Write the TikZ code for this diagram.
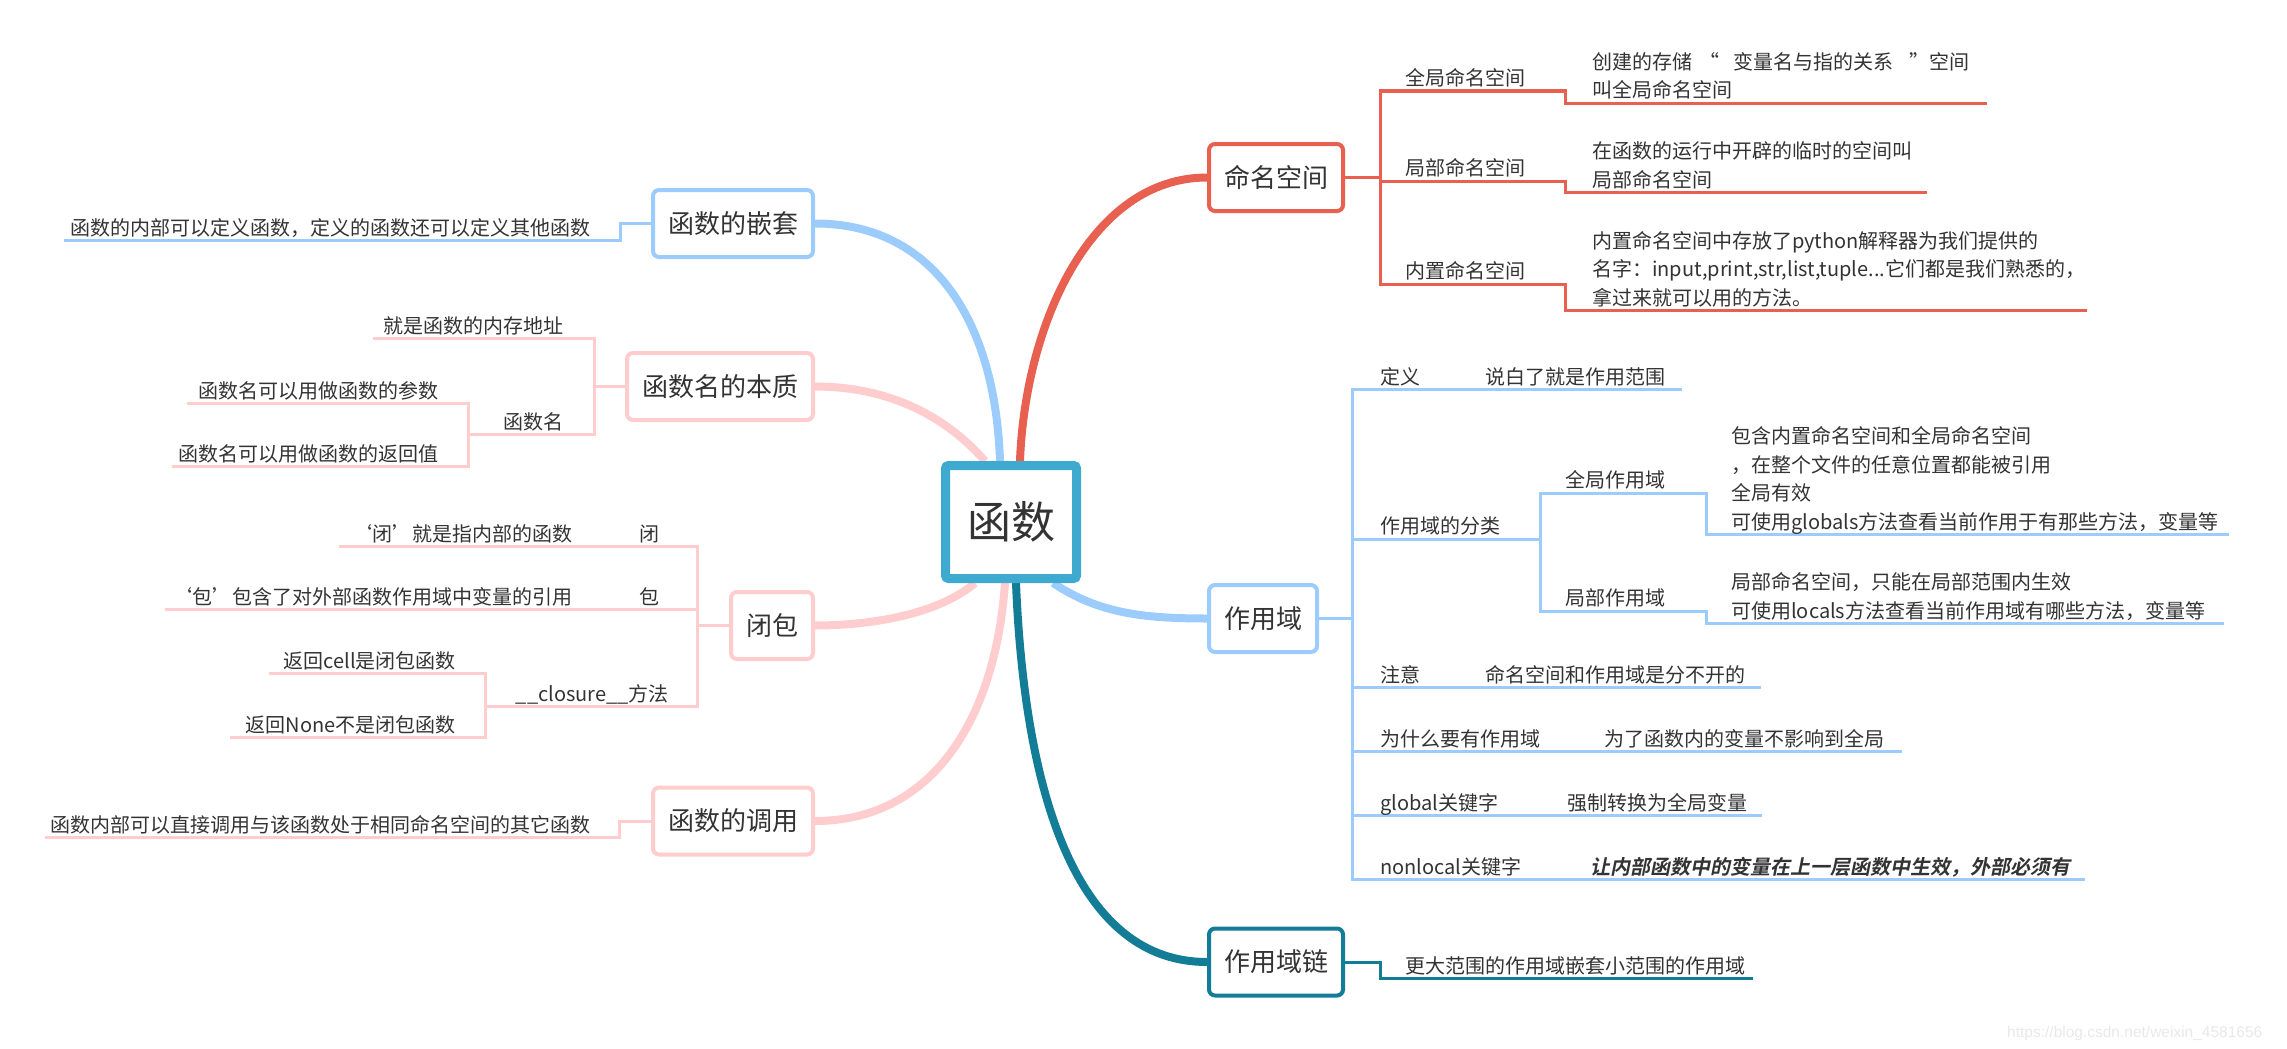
\documentclass[tikz,border=0pt]{standalone}
\usepackage{fontspec}
\setmainfont{Noto Sans CJK SC}
\newfontfamily\emfont{Noto Sans CJK SC Bold}[FakeSlant=0.2]
\newfontfamily\wmfont{Liberation Sans}
\usetikzlibrary{positioning,backgrounds}

\definecolor{nsred}{HTML}{E8604F}
\definecolor{scblue}{HTML}{9CCCFB}
\definecolor{fnpink}{HTML}{FFCDCD}
\definecolor{chainteal}{HTML}{137C96}
\definecolor{rootcyan}{HTML}{3EAAD0}
\definecolor{txtgray}{HTML}{333333}
\definecolor{wmgray}{HTML}{E8E8E8}

\newcommand\leaffont{\fontsize{20}{28.5}\selectfont}
\newcommand\topicfont{\fontsize{26}{30}\selectfont}
\newcommand\rootfont{\fontsize{44}{50}\selectfont}

\tikzset{
  root/.style={draw=rootcyan, line width=9pt, rounded corners=3pt, fill=white, text=txtgray,
    inner sep=0pt, minimum width=131pt, minimum height=113pt, font=\rootfont},
  topic/.style={draw=#1, line width=4pt, rounded corners=6pt, fill=white, text=txtgray,
    inner xsep=15pt, inner ysep=0pt, minimum height=67pt, font=\topicfont},
  trunk/.style={draw=#1, line width=8pt},
  twig/.style={draw=#1, line width=3pt, line cap=rect},
  lbl/.style={anchor=base west, inner sep=0pt, text=txtgray, font=\leaffont, align=left},
  lblr/.style={anchor=base east, inner sep=0pt, text=txtgray, font=\leaffont, align=right},
}

\begin{document}
\begin{tikzpicture}[x=1pt, y=-1pt]
        \useasboundingbox (0,0) rectangle (2287,1049);

        % Centro
        \node[root] (root) at (1011,522) {函数};

        % Temas
        \node[topic=nsred, anchor=west] (ns) at (1207,177.5) {命名空间};
        \node[topic=scblue, anchor=west] (scope) at (1207,618.5) {作用域};
        \node[topic=chainteal, anchor=west] (chain) at (1207,962) {作用域链};
        \node[topic=scblue, anchor=east] (nest) at (815,223.5) {函数的嵌套};
        \node[topic=fnpink, anchor=east] (fname) at (815,386.5) {函数名的本质};
        \node[topic=fnpink, anchor=east] (closure) at (815,625.5) {闭包};
        \node[topic=fnpink, anchor=east] (call) at (815,821) {函数的调用};

        % Troncos
        \begin{scope}[on background layer]
        \draw[trunk=nsred] ([xshift=9pt]root.north) .. controls +(5,-135) and +(-117,0) .. (ns.west);
        \draw[trunk=scblue] ([xshift=42pt]root.south) .. controls +(45,30) and +(-65,0) .. (scope.west);
        \draw[trunk=chainteal] ([xshift=5pt]root.south) .. controls +(9,220) and +(-127,0) .. (chain.west);
        \draw[trunk=scblue] ([xshift=-11pt]root.north) .. controls +(-5,-145) and +(115,0) .. (nest.east);
        \draw[trunk=fnpink] ([xshift=-26pt]root.north) .. controls +(-35,-40) and +(80,0) .. (fname.east);
        \draw[trunk=fnpink] ([xshift=-36pt]root.south) .. controls +(-35,30) and +(60,0) .. (closure.east);
        \draw[trunk=fnpink] ([xshift=-6pt]root.south) .. controls +(-10,140) and +(115,0) .. (call.east);
        \end{scope}

        % 命名空间
        \coordinate (nsJ) at (1380,177.5);
        \coordinate (nsA) at (1565,91);   \coordinate (nsAe) at (1985,103);
        \coordinate (nsB) at (1565,181);  \coordinate (nsBe) at (1925,192);
        \coordinate (nsC) at (1565,284);  \coordinate (nsCe) at (2085,310);
        \draw[twig=nsred] (ns.east) -- (nsJ);
        \draw[twig=nsred] (nsJ |- nsA) -- (nsJ |- nsC);
        \draw[twig=nsred] (nsJ |- nsA) -- (nsA) |- (nsAe);
        \draw[twig=nsred] (nsJ |- nsB) -- (nsB) |- (nsBe);
        \draw[twig=nsred] (nsJ |- nsC) -- (nsC) |- (nsCe);
        \node[lbl] (nsAl) at (1405,85) {全局命名空间};
        \node[lbl] (nsAt) at (1592,98) {创建的存储\hspace{7pt}“\hspace{14pt}变量名与指的关系\hspace{16pt}”空间\\叫全局命名空间};
        \node[lbl] (nsBl) at (1405,175) {局部命名空间};
        \node[lbl] (nsBt) at (1592,187) {在函数的运行中开辟的临时的空间叫\\局部命名空间};
        \node[lbl] (nsCl) at (1405,278) {内置命名空间};
        \node[lbl] (nsCt) at (1592,305) {内置命名空间中存放了python解释器为我们提供的\\名字：input,print,str,list,tuple...它们都是我们熟悉的，\\拿过来就可以用的方法。};

        % 作用域
        \coordinate (scJ) at (1352,618.5);
        \coordinate (scA) at (1680,389);
        \coordinate (scB) at (1540,539);
        \coordinate (scB1) at (1706,493); \coordinate (scB1e) at (2227,534);
        \coordinate (scB2) at (1706,611); \coordinate (scB2e) at (2222,623);
        \coordinate (scC) at (1759,687);
        \coordinate (scD) at (1900,751);
        \coordinate (scE) at (1760,815);
        \coordinate (scF) at (2083,879);
        \draw[twig=scblue] (scope.east) -- (scJ);
        \draw[twig=scblue] (scJ |- scA) -- (scJ |- scF);
        \draw[twig=scblue] (scJ |- scA) -- (scA);
        \draw[twig=scblue] (scJ |- scB) -- (scB);
        \draw[twig=scblue] (scB |- scB1) -- (scB |- scB2);
        \draw[twig=scblue] (scB |- scB1) -- (scB1) |- (scB1e);
        \draw[twig=scblue] (scB |- scB2) -- (scB2) |- (scB2e);
        \draw[twig=scblue] (scJ |- scC) -- (scC);
        \draw[twig=scblue] (scJ |- scD) -- (scD);
        \draw[twig=scblue] (scJ |- scE) -- (scE);
        \draw[twig=scblue] (scJ |- scF) -- (scF);
        \node[lbl] (scAl) at (1380,384) {定义};
        \node[lbl] (scAt) at (1485,384) {说白了就是作用范围};
        \node[lbl] (scBl) at (1380,533) {作用域的分类};
        \node[lbl] (scB1l) at (1565,487) {全局作用域};
        \node[lbl] (scB1t) at (1731,529) {包含内置命名空间和全局命名空间\\，在整个文件的任意位置都能被引用\\全局有效\\可使用globals方法查看当前作用于有那些方法，变量等};
        \node[lbl] (scB2l) at (1565,605) {局部作用域};
        \node[lbl] (scB2t) at (1731,618) {局部命名空间，只能在局部范围内生效\\可使用locals方法查看当前作用域有哪些方法，变量等};
        \node[lbl] (scCl) at (1380,682) {注意};
        \node[lbl] (scCt) at (1485,682) {命名空间和作用域是分不开的};
        \node[lbl] (scDl) at (1380,746) {为什么要有作用域};
        \node[lbl] (scDt) at (1604,746) {为了函数内的变量不影响到全局};
        \node[lbl] (scEl) at (1380,810) {global关键字};
        \node[lbl] (scEt) at (1567,810) {强制转换为全局变量};
        \node[lbl] (scFl) at (1380,874) {nonlocal关键字};
        \node[lbl, font=\leaffont\emfont] (scFt) at (1590,874) {让内部函数中的变量在上一层函数中生效，外部必须有};

        % 作用域链
        \coordinate (chA) at (1380,962); \coordinate (chAe) at (1751,978);
        \draw[twig=chainteal] (chain.east) -- (chA) |- (chAe);
        \node[lbl] (chAt) at (1405,973) {更大范围的作用域嵌套小范围的作用域};

        % 函数的嵌套
        \coordinate (neA) at (620,223.5); \coordinate (neAe) at (65,240);
        \draw[twig=scblue] (nest.west) -- (neA) |- (neAe);
        \node[lblr] (neAt) at (591,235) {函数的内部可以定义函数，定义的函数还可以定义其他函数};

        % 函数名的本质
        \coordinate (fnJ) at (594,386.5);
        \coordinate (fnA) at (374,338);
        \coordinate (fnB) at (468,434);
        \coordinate (fnB1) at (188,403);
        \coordinate (fnB2) at (173,466);
        \draw[twig=fnpink] (fname.west) -- (fnJ);
        \draw[twig=fnpink] (fnJ |- fnA) -- (fnJ |- fnB);
        \draw[twig=fnpink] (fnJ |- fnA) -- (fnA);
        \draw[twig=fnpink] (fnJ |- fnB) -- (fnB);
        \draw[twig=fnpink] (fnB |- fnB1) -- (fnB |- fnB2);
        \draw[twig=fnpink] (fnB |- fnB1) -- (fnB1);
        \draw[twig=fnpink] (fnB |- fnB2) -- (fnB2);
        \node[lblr] (fnAt) at (564,333) {就是函数的内存地址};
        \node[lblr] (fnBl) at (564,429) {函数名};
        \node[lblr] (fnB1t) at (439,398) {函数名可以用做函数的参数};
        \node[lblr] (fnB2t) at (439,461) {函数名可以用做函数的返回值};

        % 闭包
        \coordinate (clJ) at (697,625.5);
        \coordinate (clA) at (340,546);
        \coordinate (clB) at (166,609);
        \coordinate (clC) at (485,706);
        \coordinate (clC1) at (270,673);
        \coordinate (clC2) at (231,737);
        \draw[twig=fnpink] (closure.west) -- (clJ);
        \draw[twig=fnpink] (clJ |- clA) -- (clJ |- clC);
        \draw[twig=fnpink] (clJ |- clA) -- (clA);
        \draw[twig=fnpink] (clJ |- clB) -- (clB);
        \draw[twig=fnpink] (clJ |- clC) -- (clC);
        \draw[twig=fnpink] (clC |- clC1) -- (clC |- clC2);
        \draw[twig=fnpink] (clC |- clC1) -- (clC1);
        \draw[twig=fnpink] (clC |- clC2) -- (clC2);
        \node[lblr] (clAl) at (660,541) {闭};
        \node[lblr] (clAt) at (573,541) {‘闭’就是指内部的函数};
        \node[lblr] (clBl) at (660,604) {包};
        \node[lblr] (clBt) at (573,604) {‘包’包含了对外部函数作用域中变量的引用};
        \node[lblr] (clCl) at (669,701) {\_\_closure\_\_方法};
        \node[lblr] (clC1t) at (456,668) {返回cell是闭包函数};
        \node[lblr] (clC2t) at (456,732) {返回None不是闭包函数};

        % 函数的调用
        \coordinate (caA) at (619,821); \coordinate (caAe) at (46,837);
        \draw[twig=fnpink] (call.west) -- (caA) |- (caAe);
        \node[lblr] (caAt) at (591,832) {函数内部可以直接调用与该函数处于相同命名空间的其它函数};

        % Marca
        \node[anchor=base west, inner sep=0pt, text=wmgray, font=\wmfont\fontsize{15.5}{18}\selectfont] (wm) at (2007,1037) {https://blog.csdn.net/weixin\_4581656};

    \end{tikzpicture}
\end{document}
